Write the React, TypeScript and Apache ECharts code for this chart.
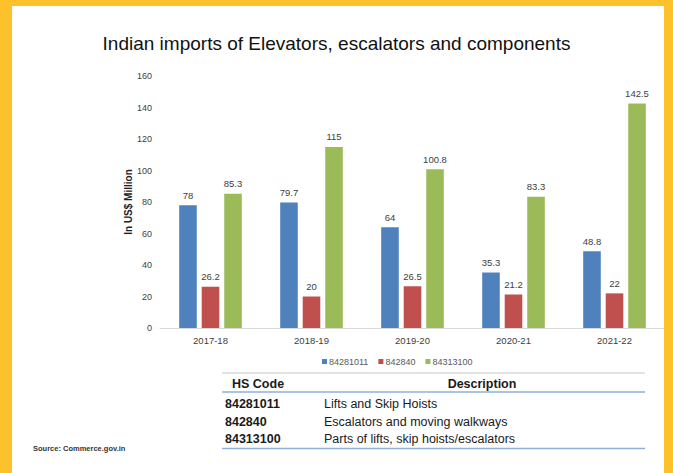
import React, { useEffect, useRef } from "react";
import * as echarts from "echarts";

const categories = ["2017-18", "2018-19", "2019-20", "2020-21", "2021-22"];
const seriesNames = ["84281011", "842840", "84313100"];
const lifts = [78, 79.7, 64, 35.3, 48.8];
const escalators = [26.2, 20, 26.5, 21.2, 22];
const parts = [85.3, 115, 100.8, 83.3, 142.5];
const colors = ["#4F81BD", "#C0504D", "#9BBB59"];
const tableHeader = ["HS Code", "Description"];
const tableCodes = ["84281011", "842840", "84313100"];
const tableDescriptions = [
  "Lifts and Skip Hoists",
  "Escalators and moving walkways",
  "Parts of lifts, skip hoists/escalators",
];

const FONT = "'Liberation Sans', Arial, sans-serif";

export default function App() {
  const ref = useRef<HTMLDivElement>(null);
  useEffect(() => {
    if (!ref.current) return;
    const chart = echarts.init(ref.current, undefined, { renderer: "svg" });
    const values = [lifts, escalators, parts];
    const rowY = [404, 421.5, 439];
    const tableGraphics: any[] = [
      { type: "line", shape: { x1: 222, y1: 373, x2: 645, y2: 373 }, style: { stroke: "#c8c8c8", lineWidth: 1.2 } },
      { type: "line", shape: { x1: 222, y1: 392, x2: 645, y2: 392 }, style: { stroke: "#8eb1d8", lineWidth: 1.6 } },
      { type: "line", shape: { x1: 222, y1: 448.5, x2: 645, y2: 448.5 }, style: { stroke: "#8eb1d8", lineWidth: 1.6 } },
      { type: "text", x: 232, y: 384, style: { text: tableHeader[0], font: `bold 12.5px ${FONT}`, fill: "#1a1a1a", textVerticalAlign: "middle", textAlign: "left" } },
      { type: "text", x: 482, y: 384, style: { text: tableHeader[1], font: `bold 12.5px ${FONT}`, fill: "#1a1a1a", textVerticalAlign: "middle", textAlign: "center" } },
    ];
    tableCodes.forEach((c, i) => {
      tableGraphics.push({ type: "text", x: 225, y: rowY[i], style: { text: c, font: `bold 12.5px ${FONT}`, fill: "#1a1a1a", textVerticalAlign: "middle", textAlign: "left" } });
      tableGraphics.push({ type: "text", x: 324, y: rowY[i], style: { text: tableDescriptions[i], font: `12.5px ${FONT}`, fill: "#1a1a1a", textVerticalAlign: "middle", textAlign: "left" } });
    });
    const borderGraphics: any[] = [
      { type: "rect", z: 100, shape: { x: 0, y: 0, width: 673, height: 6 }, style: { fill: "#FDC12B" } },
      { type: "rect", z: 100, shape: { x: 0, y: 0, width: 12, height: 473 }, style: { fill: "#FDC12B" } },
      { type: "rect", z: 100, shape: { x: 664, y: 0, width: 9, height: 473 }, style: { fill: "#FDC12B" } },
    ];
    chart.setOption({
      animation: false,
      backgroundColor: "#ffffff",
      title: {
        text: "Indian imports of Elevators, escalators and components",
        left: "center",
        top: 29,
        textStyle: { fontFamily: FONT, fontSize: 19, fontWeight: "normal", color: "#111111" },
      },
      color: colors,
      legend: {
        data: seriesNames,
        left: 317,
        top: 352,
        icon: "rect",
        itemWidth: 5,
        itemHeight: 5,
        itemGap: 10,
        textStyle: { fontFamily: FONT, fontSize: 9, color: "#595959", padding: [0, 0, 0, -3] },
      },
      grid: { left: 160, right: 8, top: 76, bottom: 145, containLabel: false },
      xAxis: {
        type: "category",
        data: categories,
        axisLine: { lineStyle: { color: "#d9d9d9" } },
        axisTick: { show: false },
        axisLabel: { fontFamily: FONT, fontSize: 9.5, color: "#404040", margin: 7 },
      },
      yAxis: {
        type: "value",
        min: 0,
        max: 160,
        interval: 20,
        name: "In US$ Million",
        nameLocation: "middle",
        nameRotate: 90,
        nameGap: 27,
        nameMoveOverlap: false,
        nameTextStyle: { fontFamily: FONT, fontSize: 10, fontWeight: "bold", color: "#222222" },
        splitLine: { show: false },
        axisLine: { show: false },
        axisTick: { show: false },
        axisLabel: { fontFamily: FONT, fontSize: 9, color: "#404040", margin: 8 },
      },
      series: seriesNames.map((name, i) => ({
        name,
        type: "bar",
        data: values[i],
        barGap: "28%",
        barCategoryGap: "38%",
        itemStyle: { color: colors[i] },
        label: {
          show: true,
          position: "top",
          distance: 5,
          fontFamily: FONT,
          fontSize: 9.5,
          color: "#404040",
        },
      })),
      graphic: [
        ...tableGraphics,
        { type: "text", x: 33, y: 448, style: { text: "Source: Commerce.gov.in", font: `bold 7.5px ${FONT}`, fill: "#333333", textVerticalAlign: "middle" } },
        ...borderGraphics,
      ],
    });
    return () => chart.dispose();
  }, []);
  return (
    <div style={{ position: "fixed", left: 0, top: 0, width: 673, height: 473 }}>
      <div ref={ref} style={{ width: 673, height: 473 }} />
    </div>
  );
}
